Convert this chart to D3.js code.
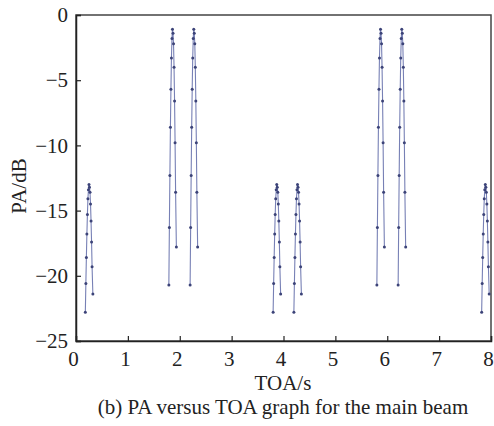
<!DOCTYPE html>
<html><head><meta charset="utf-8">
<script src="https://cdn.jsdelivr.net/npm/d3@7"></script>
<style>body{margin:0;background:#fff}svg{display:block}</style>
</head><body>
<svg id="c" width="494" height="426"></svg>
<script>
// Tick labels
const xTicks = [0,1,2,3,4,5,6,7,8];
const yTicks = [0,-5,-10,-15,-20,-25];

// PA values per pulse (dB)
const paStrong = [-20.7,-16.3,-12.3,-8.6,-5.7,-3.3,-1.8,-1.1,-1.4,-2.2,-4.0,-6.6,-9.8,-13.6,-17.8];
const paWeak   = [-22.8,-20.6,-18.6,-16.8,-15.3,-14.1,-13.4,-13.0,-13.2,-13.6,-14.5,-15.8,-17.4,-19.3,-21.4];

// TOA values per pulse (s)
const toa1 = [0.18,0.19,0.20,0.21,0.22,0.23,0.24,0.25,0.26,0.27,0.28,0.29,0.30,0.31,0.325];
const toa2 = [1.79,1.80,1.81,1.82,1.83,1.84,1.85,1.86,1.87,1.88,1.89,1.90,1.91,1.92,1.935];
const toa3 = [2.20,2.21,2.22,2.23,2.24,2.25,2.26,2.27,2.28,2.29,2.30,2.31,2.32,2.33,2.345];
const toa4 = [3.80,3.81,3.82,3.83,3.84,3.85,3.86,3.87,3.88,3.89,3.90,3.91,3.92,3.93,3.945];
const toa5 = [4.20,4.21,4.22,4.23,4.24,4.25,4.26,4.27,4.28,4.29,4.30,4.31,4.32,4.33,4.345];
const toa6 = [5.80,5.81,5.82,5.83,5.84,5.85,5.86,5.87,5.88,5.89,5.90,5.91,5.92,5.93,5.945];
const toa7 = [6.21,6.22,6.23,6.24,6.25,6.26,6.27,6.28,6.29,6.30,6.31,6.32,6.33,6.34,6.355];
const toa8 = [7.82,7.83,7.84,7.85,7.86,7.87,7.88,7.89,7.90,7.91,7.92,7.93,7.94,7.95,7.965];

const pulses = [
  {t: toa1, pa: paWeak},
  {t: toa2, pa: paStrong},
  {t: toa3, pa: paStrong},
  {t: toa4, pa: paWeak},
  {t: toa5, pa: paWeak},
  {t: toa6, pa: paStrong},
  {t: toa7, pa: paStrong},
  {t: toa8, pa: paWeak}
];

const svg = d3.select('#c');
const m = {l:76, r:491, t:15, b:341};
const x = d3.scaleLinear().domain([0,8]).range([m.l, m.r]);
const y = d3.scaleLinear().domain([-25,0]).range([m.b, m.t]);
const font = '"Liberation Serif","Times New Roman",serif';

// frame
svg.append('rect').attr('x',m.l).attr('y',m.t).attr('width',m.r-m.l).attr('height',m.b-m.t)
  .attr('fill','none').attr('stroke','#444').attr('stroke-width',1.5);

const xAxis = svg.append('g').attr('transform',`translate(0,${m.b})`)
  .call(d3.axisBottom(x).tickValues(xTicks).tickSize(-5).tickPadding(6).tickFormat(d3.format('d')));
const yAxis = svg.append('g').attr('transform',`translate(${m.l},0)`)
  .call(d3.axisLeft(y).tickValues(yTicks).tickSize(-5).tickPadding(8).tickFormat(d=> d<0 ? '\u2212'+Math.abs(d) : d));
[xAxis,yAxis].forEach(g=>{
  g.select('.domain').attr('stroke','#222').attr('stroke-width',1.5);
  g.selectAll('.tick line').attr('stroke','#222').attr('stroke-width',1.2);
  g.selectAll('text').attr('font-family',font).attr('font-size',21).attr('fill','#222');
});
xAxis.selectAll('text').attr('dy','0.9em').attr('dx',-3);

const clip = svg.append('clipPath').attr('id','pc').append('rect')
  .attr('x',m.l).attr('y',m.t-5).attr('width',m.r-m.l).attr('height',m.b-m.t+10);

const line = d3.line().x(d=>x(d[0])).y(d=>y(d[1]));
const pg = svg.append('g').attr('clip-path','url(#pc)');
pulses.forEach(p=>{
  const pts = p.t.map((t,i)=>[t,p.pa[i]]);
  pg.append('path').attr('d',line(pts)).attr('fill','none')
    .attr('stroke','#5f6aa8').attr('stroke-width',1.1).attr('stroke-opacity',0.85);
  pg.selectAll(null).data(pts).enter().append('circle')
    .attr('cx',d=>x(d[0])).attr('cy',d=>y(d[1])).attr('r',1.5).attr('fill','#3c4378');
});

svg.append('text').attr('x',283).attr('y',390).attr('text-anchor','middle')
  .attr('font-family',font).attr('font-size',21).attr('fill','#222').text('TOA/s');
svg.append('text').attr('transform','translate(26,186) rotate(-90)').attr('text-anchor','middle')
  .attr('font-family',font).attr('font-size',21).attr('fill','#222').text('PA/dB');
svg.append('text').attr('x',283).attr('y',414).attr('text-anchor','middle')
  .attr('font-family',font).attr('font-size',21).attr('fill','#222').text('(b) PA versus TOA graph for the main beam');
</script>
</body></html>
